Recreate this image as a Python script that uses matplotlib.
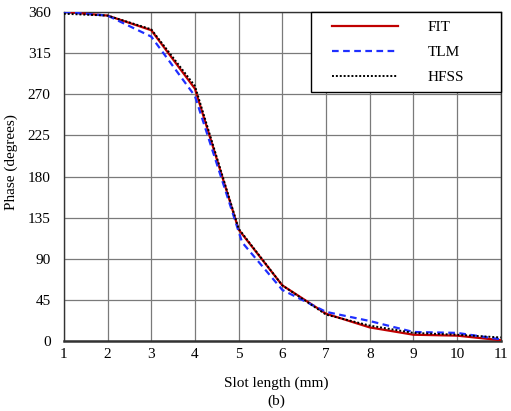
import matplotlib.pyplot as plt
from matplotlib.lines import Line2D
from matplotlib.legend_handler import HandlerLine2D

# Reading data
slot_len = [1, 2, 3, 4, 5, 6, 7, 8, 9, 10, 11]
fit = [360, 356, 340, 276, 122, 61, 30, 15, 7, 6, 1]
tlm_x = [1, 2, 3, 4, 5.08, 6, 7, 8, 9, 10, 11]
tlm = [360, 356, 333, 268, 108, 56, 32, 22, 10, 9, 2]
hfss = [358, 356, 341, 279, 123, 61, 29, 17, 9, 7, 4]

yticks = [0, 45, 90, 135, 180, 225, 270, 315, 360]

plt.rcParams['font.family'] = 'Liberation Serif'

fig = plt.figure(figsize=(5.11, 4.11), dpi=100)
ax = fig.add_axes([0.125, 0.170, 0.855, 0.801])

ax.plot(slot_len, fit, color='#c00000', linewidth=1.6, linestyle='-', label='FIT', zorder=3)
ax.plot(tlm_x, tlm, color='#1f2fff', linewidth=1.6, linestyle=(0, (3, 2)), label='TLM', zorder=4)
ax.plot(slot_len, hfss, color='black', linewidth=1.4, linestyle=(0, (1, 1)), label='HFSS', zorder=5)

ax.set_xlim(1, 11)
ax.set_ylim(0, 360)
ax.set_xticks(slot_len)
ax.set_yticks(yticks)
ax.grid(True, color='#7a7a7a', linewidth=0.9)
ax.tick_params(length=0, labelsize=11)
ax.tick_params(axis='x', pad=5)
ax.tick_params(axis='y', pad=9.5)
for s in ax.spines.values():
    s.set_color('#333333')
    s.set_linewidth(1.0)
ax.spines['bottom'].set_linewidth(1.8)

ax.set_xlabel('Slot length (mm)\n(b)', fontsize=11, linespacing=1.5)
ax.xaxis.set_label_coords(0.487, -0.106)
ax.set_ylabel('Phase (degrees)', fontsize=11)
ax.yaxis.set_label_coords(-0.105, 0.544)

leg = ax.legend(loc='upper right', bbox_to_anchor=(0.5645, 0, 0.4355, 1), mode='expand',
                fontsize=11, numpoints=2, handlelength=6.0, handletextpad=1.13,
                borderpad=0.54, labelspacing=0.75, fancybox=False, framealpha=1,
                borderaxespad=0, handler_map={Line2D: HandlerLine2D(marker_pad=0.84)})
leg.get_frame().set_edgecolor('black')
leg.get_frame().set_linewidth(1.0)

fig.savefig('out.png', dpi=100)
